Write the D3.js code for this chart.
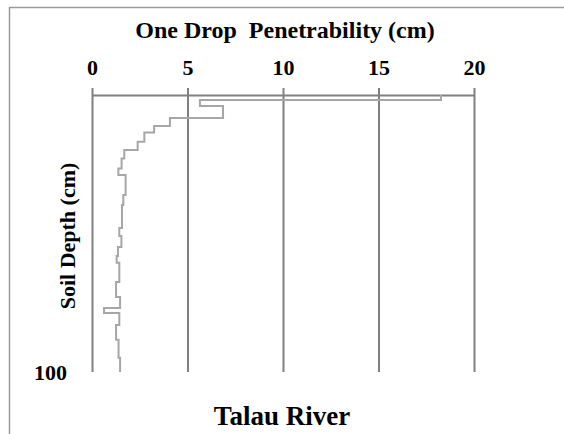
<!DOCTYPE html>
<html>
<head>
<meta charset="utf-8">
<script src="https://cdn.jsdelivr.net/npm/d3@7"></script>
<style>
  body { margin: 0; background: #fff; }
  text { font-family: "Liberation Serif", "Times New Roman", serif; font-weight: bold; fill: #000; }
</style>
</head>
<body>
<script>
// depth (cm) where each reading starts, and the one drop penetrability reading (cm)
const depthTop = [0, 1.8, 4.0, 8.3, 11.2, 13.5, 16.9, 19.9, 22.9, 26.5, 28.9, 36.1, 39.7, 48.0, 50.9, 54.9, 58.1, 60.6, 67.5, 72.9, 76.9, 78.7, 83.0, 88.4, 94.9];
const penetrability = [18.27, 5.65, 6.86, 4.08, 3.25, 2.74, 2.39, 1.69, 1.55, 1.38, 1.76, 1.64, 1.57, 1.43, 1.54, 1.36, 1.29, 1.43, 1.26, 1.47, 0.63, 1.43, 1.26, 1.39, 1.47];
const maxDepth = 100;
const xTicks = [0, 5, 10, 15, 20];
const yTicks = [100];

const width = 564;
const height = 434;
const plotLeft = 92, plotRight = 474, plotTop = 95, plotBottom = 372;

const xScale = d3.scaleLinear().domain([0, 20]).range([plotLeft, plotRight]);
const yScale = d3.scaleLinear().domain([0, maxDepth]).range([plotTop, plotBottom]);

const svg = d3.select('body')
  .append('svg')
  .attr('width', width)
  .attr('height', height);

// outer frame (runs off the right and bottom edges)
svg.append('path')
  .attr('d', 'M9.5,' + height + 'V7.5H' + width)
  .attr('fill', 'none')
  .attr('stroke', '#9a9a9a')
  .attr('stroke-width', 1.5);

// vertical grid lines
const grid = svg.append('g')
  .attr('transform', 'translate(0,' + plotTop + ')')
  .call(d3.axisTop(xScale).tickValues(xTicks).tickSize(-(plotBottom - plotTop)).tickSizeOuter(0).tickFormat(''));
grid.select('.domain').remove();
grid.selectAll('line').attr('stroke', '#808080').attr('stroke-width', 2);

// top axis with labels
const xAxis = svg.append('g')
  .attr('transform', 'translate(0,' + plotTop + ')')
  .call(d3.axisTop(xScale).tickValues(xTicks).tickSize(7).tickSizeOuter(0).tickPadding(13));
xAxis.select('.domain').attr('stroke', '#808080').attr('stroke-width', 2);
xAxis.selectAll('line').attr('stroke', '#808080').attr('stroke-width', 2);
xAxis.selectAll('text').style('font-size', '22px');

// left axis, only the 100 label
const yAxis = svg.append('g')
  .attr('transform', 'translate(' + plotLeft + ',0)')
  .call(d3.axisLeft(yScale).tickValues(yTicks).tickSize(0).tickPadding(25));
yAxis.select('.domain').remove();
yAxis.selectAll('text').style('font-size', '22px');

// step profile
const points = depthTop.map((d, i) => [penetrability[i], d]);
points.push([penetrability[penetrability.length - 1], maxDepth]);

const line = d3.line()
  .x(d => xScale(d[0]))
  .y(d => yScale(d[1]))
  .curve(d3.curveStepBefore);

svg.append('path')
  .datum(points)
  .attr('d', line)
  .attr('fill', 'none')
  .attr('stroke', '#a6a6a6')
  .attr('stroke-width', 2);

// titles
svg.append('text')
  .attr('x', 285)
  .attr('y', 38)
  .attr('text-anchor', 'middle')
  .style('font-size', '24px')
  .style('white-space', 'pre')
  .text('One Drop  Penetrability (cm)');

svg.append('text')
  .attr('transform', 'translate(75,236) rotate(-90)')
  .attr('text-anchor', 'middle')
  .style('font-size', '22px')
  .text('Soil Depth (cm)');

svg.append('text')
  .attr('x', 282)
  .attr('y', 425)
  .attr('text-anchor', 'middle')
  .style('font-size', '27px')
  .text('Talau River');
</script>
</body>
</html>
